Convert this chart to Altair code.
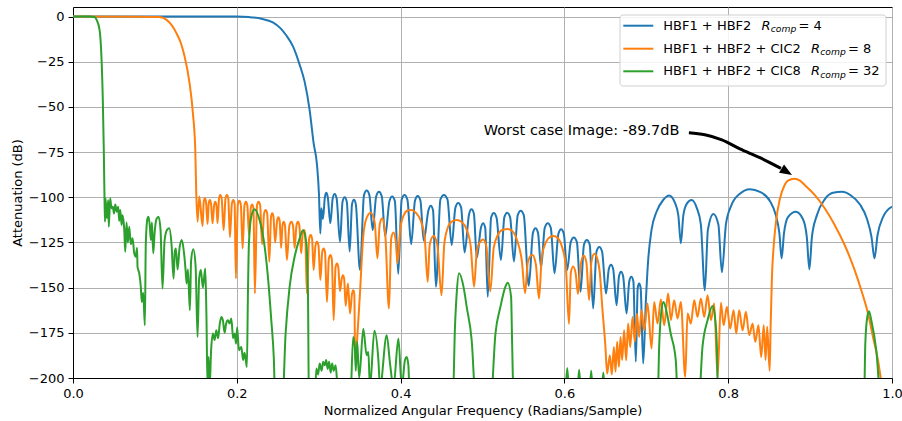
import altair as alt
import pandas as pd

BLUE = "#1f77b4"
ORANGE = "#ff7f0e"
GREEN = "#2ca02c"

# Frequency response of each decimation chain: (normalized frequency, attenuation dB)
hbf_r4 = [
    (0.0, 0.0), (0.10, 0.0), (0.20, 0.0), (0.215, -0.3), (0.230, -1.2), (0.244, -3.2),
    (0.2535, -6.5), (0.2605, -10.5), (0.2686, -16.5), (0.2767, -26.6), (0.2828, -36.0),
    (0.2889, -51.6), (0.2938, -70.0), (0.2979, -82.0), (0.3003, -98.0), (0.3020, -120.0),
    (0.3032, -106.0),
    (0.3052, -112.0), (0.3075, -100.0), (0.3093, -97.5), (0.3111, -100.0), (0.3142, -114.4),
    (0.3171, -100.7), (0.3195, -98.2), (0.3219, -100.7), (0.3260, -124.6),
    (0.3291, -102.5), (0.3317, -100.0), (0.3343, -102.5), (0.3378, -130.0),
    (0.3407, -103.8), (0.3430, -101.3), (0.3453, -103.8), (0.3504, -140.3),
    (0.3553, -98.8), (0.3586, -96.3), (0.3619, -98.8), (0.3659, -118.1),
    (0.3702, -99.4), (0.3736, -96.9), (0.3770, -99.4), (0.3812, -121.5),
    (0.3864, -102.1), (0.3897, -99.6), (0.3930, -102.1), (0.3971, -142.3),
    (0.4013, -101.3), (0.4048, -98.8), (0.4083, -101.3), (0.4129, -126.0),
    (0.4176, -101.8), (0.4209, -99.3), (0.4242, -101.8), (0.4282, -124.0),
    (0.4340, -107.2), (0.4368, -104.7), (0.4396, -107.2), (0.4431, -149.5),
    (0.4486, -101.2), (0.4529, -98.7), (0.4572, -101.2), (0.4624, -126.4),
    (0.4669, -105.7), (0.4704, -103.2), (0.4739, -105.7), (0.4781, -130.5),
    (0.4837, -109.1), (0.4866, -106.6), (0.4895, -109.1), (0.4930, -133.5),
    (0.4981, -116.9), (0.5007, -114.4), (0.5033, -116.9), (0.5064, -155.1),
    (0.5105, -111.2), (0.5138, -108.7), (0.5171, -111.2), (0.5225, -134.7),
    (0.5267, -111.0), (0.5302, -108.5), (0.5337, -111.0), (0.5384, -135.6),
    (0.5430, -109.9), (0.5467, -107.4), (0.5504, -109.9), (0.5565, -149.0),
    (0.5616, -119.7), (0.5647, -117.2), (0.5678, -119.7), (0.5715, -139.0),
    (0.5760, -116.9), (0.5797, -114.4), (0.5834, -116.9), (0.5879, -142.1),
    (0.5927, -120.2), (0.5960, -117.7), (0.5993, -120.2), (0.6033, -140.3),
    (0.6078, -124.7), (0.6115, -122.2), (0.6152, -124.7), (0.6197, -152.3),
    (0.6239, -126.2), (0.6274, -123.7), (0.6309, -126.2), (0.6351, -161.5),
    (0.6392, -130.0), (0.6426, -127.5), (0.6460, -130.0), (0.6508, -153.3),
    (0.6542, -139.8), (0.6569, -137.3), (0.6596, -139.8), (0.6637, -159.7),
    (0.6667, -143.7), (0.6692, -141.2), (0.6717, -143.7), (0.6759, -164.3),
    (0.6792, -146.5), (0.6817, -144.0), (0.6842, -146.5), (0.6872, -191.0),
    (0.6895, -150.2), (0.6913, -147.7), (0.6931, -150.2), (0.6962, -192.0),
    (0.6995, -157.0), (0.7023, -134.7), (0.7064, -118.0), (0.7125, -108.0),
    (0.7206, -101.5), (0.7279, -99.0), (0.7349, -103.0), (0.7391, -110.0), (0.7422, -125.5),
    (0.7452, -110.0), (0.7495, -103.5), (0.7553, -101.5), (0.7617, -106.0), (0.7666, -115.0),
    (0.7715, -151.4), (0.7752, -118.0), (0.7819, -109.2), (0.7880, -115.0), (0.7923, -141.5),
    (0.7972, -115.0), (0.8033, -105.0), (0.8143, -98.0), (0.8265, -95.5), (0.8387, -97.0),
    (0.8509, -102.0), (0.8582, -110.0), (0.8625, -120.0), (0.8652, -133.8), (0.8681, -120.0),
    (0.8730, -111.0), (0.8827, -108.0), (0.8912, -112.0), (0.8960, -122.0), (0.8991, -139.8),
    (0.9022, -122.0), (0.9082, -110.0), (0.9181, -101.0), (0.9279, -97.5), (0.9389, -97.0),
    (0.9499, -99.0), (0.9609, -104.0), (0.9695, -112.0), (0.9750, -122.0), (0.9786, -133.8),
    (0.9823, -121.0), (0.9890, -111.0), (1.0, -105.2),
]

hbf_cic2_r8 = [
    (0.0, 0.0), (0.08, -0.1), (0.1057, -0.3), (0.1139, -1.7), (0.1200, -4.5), (0.1261, -9.0),
    (0.1320, -15.0), (0.1362, -22.0), (0.1423, -36.8), (0.1464, -53.4), (0.1493, -73.8),
    (0.1505, -97.8), (0.1521, -113.5),
    (0.1542, -99.6), (0.1582, -115.9),
    (0.1596, -102.6), (0.1610, -100.6), (0.1624, -102.6), (0.1643, -114.8),
    (0.1657, -103.5), (0.1671, -101.5), (0.1685, -103.5), (0.1704, -114.4),
    (0.1723, -104.4), (0.1737, -102.4), (0.1751, -104.4), (0.1765, -114.4),
    (0.1783, -100.7), (0.1798, -98.7), (0.1815, -100.7), (0.1839, -118.1),
    (0.1862, -100.7), (0.1879, -98.7), (0.1896, -100.7), (0.1916, -122.0),
    (0.1940, -103.5), (0.1957, -101.5), (0.1973, -103.5), (0.1989, -144.9),
    (0.2013, -103.9), (0.2031, -101.9), (0.2049, -103.9), (0.2071, -128.3),
    (0.2094, -104.4), (0.2111, -102.4), (0.2128, -104.4), (0.2150, -121.0),
    (0.2171, -106.0), (0.2187, -104.0), (0.2203, -106.0), (0.2221, -153.2),
    (0.2247, -104.4), (0.2266, -102.4), (0.2285, -104.4), (0.2309, -126.0),
    (0.2333, -109.0), (0.2352, -107.0), (0.2371, -109.0), (0.2397, -135.7),
    (0.2418, -110.9), (0.2433, -108.9), (0.2448, -110.9), (0.2468, -125.0),
    (0.2492, -113.0), (0.2508, -111.0), (0.2523, -113.0), (0.2541, -128.0),
    (0.2558, -115.5), (0.2572, -113.5), (0.2588, -115.5), (0.2612, -134.7),
    (0.2643, -115.5), (0.2666, -113.5), (0.2686, -115.5), (0.2706, -128.0),
    (0.2729, -115.5), (0.2746, -113.5), (0.2763, -115.5), (0.2786, -131.0),
    (0.2805, -120.1), (0.2820, -118.1), (0.2835, -120.1), (0.2856, -153.2),
    (0.2883, -122.9), (0.2902, -120.9), (0.2919, -122.9), (0.2938, -140.3),
    (0.2961, -126.6), (0.2979, -124.6), (0.2997, -126.6), (0.3020, -145.8),
    (0.3043, -130.3), (0.3060, -128.3), (0.3077, -130.3), (0.3101, -157.9),
    (0.3124, -134.0), (0.3142, -132.0), (0.3160, -134.0), (0.3183, -168.0),
    (0.3206, -138.6), (0.3223, -136.6), (0.3239, -138.6), (0.3260, -152.0),
    (0.3281, -145.1), (0.3296, -143.1), (0.3311, -145.1), (0.3329, -160.0),
    (0.3357, -147.7), (0.3382, -164.3),
    (0.3407, -153.4), (0.3423, -151.4), (0.3435, -153.4), (0.3445, -190.0),
    (0.3484, -168.0), (0.3504, -153.0), (0.3543, -122.0),
    (0.3580, -112.0), (0.3635, -108.5), (0.3684, -114.0), (0.3717, -133.8), (0.3745, -115.0),
    (0.3775, -111.6), (0.3812, -120.0), (0.3858, -161.6), (0.3885, -123.0), (0.3913, -119.5),
    (0.3940, -124.0), (0.3963, -136.6), (0.3995, -118.0), (0.4038, -110.0), (0.4087, -107.3),
    (0.4136, -107.0), (0.4184, -108.5), (0.4246, -113.0), (0.4294, -122.0), (0.4331, -146.8),
    (0.4356, -126.0), (0.4403, -121.4), (0.4447, -126.0), (0.4500, -154.2), (0.4533, -126.0),
    (0.4575, -117.0), (0.4624, -113.5), (0.4685, -112.6), (0.4746, -113.7), (0.4808, -118.0),
    (0.4856, -127.0), (0.4897, -149.5), (0.4930, -130.0), (0.4966, -125.0), (0.5007, -123.3),
    (0.5046, -127.0), (0.5095, -152.0), (0.5137, -128.0), (0.5186, -121.0), (0.5247, -118.0),
    (0.5308, -117.6), (0.5370, -119.0), (0.5431, -125.0), (0.5480, -135.0), (0.5520, -153.0),
    (0.5553, -136.0), (0.5608, -131.8), (0.5651, -137.0), (0.5690, -156.0), (0.5724, -133.0),
    (0.5773, -125.0), (0.5822, -122.0), (0.5870, -121.4), (0.5919, -122.5), (0.5968, -127.0),
    (0.6017, -138.0), (0.6056, -170.0), (0.6078, -142.0), (0.6106, -138.3), (0.6137, -142.0),
    (0.6166, -153.5), (0.6194, -139.0), (0.6235, -132.2), (0.6268, -136.0), (0.6302, -156.8),
    (0.6329, -136.0), (0.6365, -131.2), (0.6402, -134.0), (0.6433, -142.0), (0.6461, -160.0),
    (0.6500, -182.0), (0.6522, -197.6),
    (0.6555, -187.4), (0.6579, -198.0), (0.6604, -182.8), (0.6624, -196.5), (0.6644, -180.0),
    (0.6665, -193.8), (0.6685, -177.3), (0.6705, -190.0), (0.6729, -173.6), (0.6754, -190.2),
    (0.6778, -169.9), (0.6803, -182.8), (0.6832, -166.2), (0.6860, -180.0), (0.6885, -164.3),
    (0.6913, -177.3), (0.6942, -162.5), (0.6974, -173.6), (0.7015, -158.8), (0.7064, -183.7),
    (0.7096, -157.9), (0.7137, -169.9), (0.7178, -156.6), (0.7218, -170.8), (0.7267, -153.2),
    (0.7300, -168.0), (0.7340, -157.0), (0.7382, -167.1), (0.7422, -157.9), (0.7475, -199.4),
    (0.7504, -164.3), (0.7544, -169.9), (0.7585, -157.0), (0.7626, -166.2), (0.7666, -156.0),
    (0.7707, -166.2), (0.7748, -154.2), (0.7789, -168.0), (0.7829, -158.8), (0.7870, -199.4),
    (0.7911, -158.4), (0.7944, -170.8), (0.7984, -160.6), (0.8024, -172.7), (0.8066, -162.5),
    (0.8098, -175.4), (0.8134, -162.5), (0.8176, -173.6), (0.8216, -163.4), (0.8257, -176.3),
    (0.8298, -169.9), (0.8330, -180.0), (0.8369, -170.8), (0.8403, -188.4), (0.8434, -170.8),
    (0.8456, -190.0), (0.8476, -171.7), (0.8506, -196.0),
    (0.8518, -171.7), (0.8534, -144.0), (0.8558, -125.5), (0.8586, -112.6), (0.8628, -101.5),
    (0.8689, -93.2), (0.8729, -90.8), (0.8809, -89.7), (0.8876, -90.8), (0.8933, -93.2),
    (0.9056, -98.7), (0.9178, -106.1), (0.9300, -115.3), (0.9422, -126.4), (0.9544, -140.3),
    (0.9625, -151.4), (0.9707, -164.3), (0.9768, -177.3), (0.9829, -190.2), (0.9862, -200.0),
    (0.9902, -212.0), (1.0, -230.0),
]

hbf_cic8_r32 = [
    (0.0, 0.0), (0.020, 0.0), (0.0263, -0.2), (0.0283, -1.3), (0.0324, -7.2), (0.0345, -20.0),
    (0.0364, -46.0), (0.0376, -73.8), (0.0385, -101.5), (0.0391, -113.5),
    (0.0397, -100.6), (0.0413, -111.6), (0.0430, -101.5), (0.0437, -116.3), (0.0454, -100.6),
    (0.0470, -106.0), (0.0486, -105.2), (0.0501, -109.0), (0.0516, -104.0), (0.0535, -108.0),
    (0.0552, -105.2), (0.0564, -113.0), (0.0577, -107.0), (0.0593, -115.3), (0.0605, -110.0),
    (0.0626, -118.1), (0.0638, -130.1), (0.0654, -114.0), (0.0670, -125.0), (0.0687, -116.3),
    (0.0706, -126.0), (0.0727, -122.7), (0.0748, -131.0), (0.0767, -132.9), (0.0782, -128.0),
    (0.0788, -138.5), (0.0809, -142.1), (0.0828, -149.5), (0.0840, -157.9), (0.0858, -153.0),
    (0.0877, -170.8), (0.0889, -125.5), (0.0910, -111.6), (0.0922, -110.7), (0.0938, -116.0),
    (0.0951, -123.7), (0.0963, -114.0), (0.0980, -131.0), (0.0996, -120.0), (0.1020, -112.0),
    (0.1045, -110.7), (0.1069, -118.0), (0.1093, -150.5), (0.1118, -124.0), (0.1148, -118.0),
    (0.1175, -117.2), (0.1203, -126.0), (0.1228, -144.9), (0.1243, -130.0), (0.1256, -128.3),
    (0.1277, -140.0), (0.1301, -128.0), (0.1329, -123.7), (0.1356, -131.0), (0.1374, -140.0),
    (0.1387, -147.7), (0.1403, -140.0), (0.1427, -162.5), (0.1442, -135.0), (0.1469, -128.8),
    (0.1497, -138.0), (0.1521, -177.3), (0.1540, -145.0), (0.1561, -140.3), (0.1586, -150.0),
    (0.1615, -139.4), (0.1629, -165.0), (0.1643, -205.0), (0.1655, -188.4), (0.1668, -205.0),
    (0.1686, -185.0), (0.1708, -175.4), (0.1729, -179.0), (0.1750, -173.6), (0.1772, -178.0),
    (0.1790, -170.8), (0.1811, -166.2), (0.1830, -168.0), (0.1851, -175.0), (0.1869, -170.0),
    (0.1891, -168.0), (0.1912, -169.9), (0.1933, -167.1), (0.1955, -178.0), (0.1973, -175.4),
    (0.1991, -181.0), (0.2004, -172.0), (0.2026, -184.6), (0.2055, -182.8), (0.2077, -190.0),
    (0.2095, -186.0), (0.2123, -193.9), (0.2136, -153.2), (0.2148, -125.5), (0.2177, -110.7),
    (0.2217, -106.6), (0.2278, -112.6), (0.2340, -127.3), (0.2380, -144.0), (0.2421, -168.0),
    (0.2453, -190.2), (0.2470, -215.0), (0.2555, -215.0), (0.2596, -175.4), (0.2645, -149.5),
    (0.2706, -132.9), (0.2767, -122.7), (0.2808, -118.3), (0.2849, -125.5), (0.2869, -153.2),
    (0.2881, -215.0), (0.2951, -215.0), (0.2971, -194.8), (0.2993, -198.0), (0.3012, -192.0),
    (0.3036, -196.0), (0.3054, -191.0), (0.3073, -193.0), (0.3091, -190.0), (0.3109, -195.0),
    (0.3127, -191.0), (0.3146, -197.0), (0.3164, -192.0), (0.3183, -196.0), (0.3207, -193.0),
    (0.3231, -205.0), (0.3384, -215.0), (0.3421, -177.3), (0.3441, -183.0), (0.3453, -196.0),
    (0.3470, -180.0), (0.3494, -200.0), (0.3545, -172.7), (0.3585, -187.4), (0.3606, -185.6),
    (0.3626, -205.0), (0.3680, -173.9), (0.3729, -190.2), (0.3749, -205.0), (0.3830, -176.3),
    (0.3871, -192.0), (0.3913, -205.0), (0.3973, -178.2), (0.4014, -205.0), (0.4053, -190.2),
    (0.4074, -188.4), (0.4095, -193.0), (0.4114, -215.0), (0.4636, -215.0), (0.4664, -171.7),
    (0.4685, -153.2), (0.4713, -142.1), (0.4770, -150.0), (0.4807, -160.6), (0.4868, -179.1),
    (0.4921, -215.0), (0.5097, -215.0), (0.5158, -175.4), (0.5219, -160.6), (0.5280, -149.5),
    (0.5308, -147.3), (0.5349, -155.0), (0.5361, -179.1), (0.5382, -215.0), (0.6000, -215.0),
    (0.6035, -194.5), (0.6066, -215.0), (0.6146, -215.0), (0.6180, -195.5), (0.6211, -215.0),
    (0.6296, -215.0), (0.6327, -196.0), (0.6357, -215.0), (0.6445, -215.0), (0.6475, -197.0),
    (0.6506, -215.0), (0.7137, -215.0), (0.7157, -182.8), (0.7177, -166.2), (0.7210, -157.9),
    (0.7246, -163.0), (0.7298, -175.4), (0.7360, -190.2), (0.7388, -215.0), (0.7638, -215.0),
    (0.7686, -182.8), (0.7748, -168.0), (0.7809, -160.2), (0.7838, -166.0), (0.7862, -182.8),
    (0.7878, -215.0), (0.9658, -215.0), (0.9674, -181.0), (0.9698, -166.2), (0.9719, -163.0),
    (0.9747, -168.0), (0.9808, -184.6), (0.9869, -215.0), (1.0, -215.0),
]

# Annotation: text anchor and curved arrow path toward the worst-case image lobe
note_anchor = (0.5015, -63.2)
arrow_path = [(0.7520, -64.3), (0.7715, -65.4), (0.7923, -68.2), (0.8143, -73.2),
              (0.8387, -78.1), (0.8644, -84.0)]
arrow_head = (0.8715, -85.9)

legend_labels = ["HBF1 + HBF2", "HBF1 + HBF2 + CIC2", "HBF1 + HBF2 + CIC8"]
legend_ratios = ["4", "8", "32"]
legend_colors = [BLUE, ORANGE, GREEN]

FONT = "DejaVu Sans"

x_scale = alt.Scale(domain=[0, 1], nice=False, zero=False)
y_scale = alt.Scale(domain=[-200, 5.3], nice=False, zero=False)

x_axis = alt.Axis(
    title="Normalized Angular Frequency (Radians/Sample)",
    values=[0, 0.2, 0.4, 0.6, 0.8, 1.0], format=".1f", titlePadding=4,
    labelFlush=False,
)
y_axis = alt.Axis(
    title="Attenuation (dB)", values=list(range(-200, 1, 25)), titlePadding=4,
    labelFlush=False,
)

X = alt.X("freq:Q", scale=x_scale, axis=x_axis)
Y = alt.Y("atten:Q", scale=y_scale, axis=y_axis)


def frame(points):
    return pd.DataFrame(points, columns=["freq", "atten"])


def response(points, color):
    return alt.Chart(frame(points)).mark_line(
        color=color, strokeWidth=2, interpolate="monotone", clip=True
    ).encode(x=X, y=Y)


layers = [
    response(hbf_r4, BLUE),
    response(hbf_cic2_r8, ORANGE),
    response(hbf_cic8_r32, GREEN),
]

# Worst-case image annotation, with the value taken from the CIC2 curve
worst = max(a for f, a in hbf_cic2_r8 if f > 0.8)
note = pd.DataFrame({"freq": [note_anchor[0]], "atten": [note_anchor[1]],
                     "label": [f"Worst case Image: {worst:.1f}dB"]})
layers.append(alt.Chart(note).mark_text(
    align="left", baseline="middle", fontSize=14.5, font=FONT, color="black"
).encode(x=X, y=Y, text="label:N"))

layers.append(alt.Chart(frame(arrow_path)).mark_line(
    color="black", strokeWidth=3, interpolate="monotone", strokeCap="butt"
).encode(x=X, y=Y))

layers.append(alt.Chart(frame([arrow_head])).mark_point(
    shape="M -1 -0.8 L 1 0 L -1 0.8 Z", size=150, filled=True, color="black",
    opacity=1, angle=31, strokeWidth=0
).encode(x=X, y=Y))

# Legend box drawn in pixel space at the top-right of the plot
one = alt.Data(values=[{}])
layers.append(alt.Chart(one).mark_rect(
    fill="white", fillOpacity=0.85, stroke="#d0d0d0", strokeWidth=1, cornerRadius=3
).encode(x=alt.value(547), x2=alt.value(813), y=alt.value(8), y2=alt.value(79)))

row_y = [18.7, 41.7, 64.3]
r_x = [688.5, 738.0, 738.0]
for label, ratio, color, ry, rx in zip(legend_labels, legend_ratios, legend_colors, row_y, r_x):
    layers.append(alt.Chart(one).mark_rule(color=color, strokeWidth=2).encode(
        x=alt.value(550.3), x2=alt.value(580.3), y=alt.value(ry)))
    layers.append(alt.Chart(one).mark_text(
        text=label, align="left", baseline="middle", fontSize=13, font=FONT, color="black"
    ).encode(x=alt.value(590.3), y=alt.value(ry)))
    layers.append(alt.Chart(one).mark_text(
        text="R", align="left", baseline="middle", fontSize=13, font=FONT,
        fontStyle="italic", color="black"
    ).encode(x=alt.value(rx), y=alt.value(ry)))
    layers.append(alt.Chart(one).mark_text(
        text="comp", align="left", baseline="middle", fontSize=9.2, font=FONT,
        fontStyle="italic", color="black"
    ).encode(x=alt.value(rx + 9.3), y=alt.value(ry + 3.5)))
    layers.append(alt.Chart(one).mark_text(
        text="= " + ratio, align="left", baseline="middle", fontSize=13, font=FONT, color="black"
    ).encode(x=alt.value(rx + 37.0), y=alt.value(ry)))

chart = alt.layer(*layers).properties(
    width=819, height=371,
    padding={"left": 73, "right": 10, "top": 7, "bottom": 43},
    autosize=alt.AutoSizeParams(type="none"),
    background="white",
).configure_view(
    stroke="black", strokeWidth=1
).configure_axis(
    labelFont=FONT, titleFont=FONT, labelFontSize=13, titleFontSize=13,
    titleFontWeight="normal", labelColor="black", titleColor="black",
    tickColor="black", domainColor="black", gridColor="#b0b0b0", gridWidth=1,
    grid=True, tickSize=5, labelPadding=4, domainWidth=1,
)

chart.save("out.html", embed_options={"renderer": "svg", "actions": False})
